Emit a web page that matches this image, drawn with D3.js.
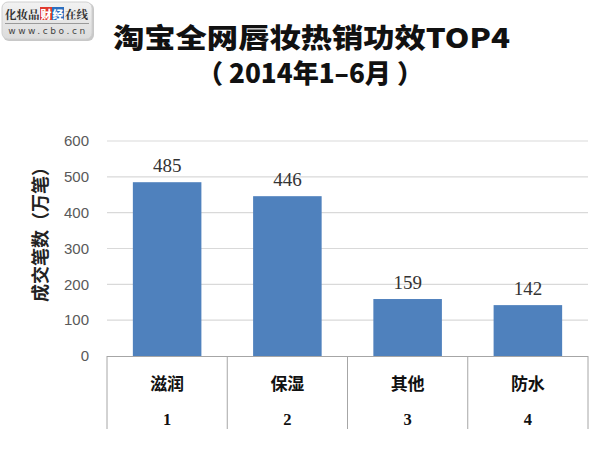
<!DOCTYPE html>
<html><head><meta charset="utf-8">
<script src="https://cdn.jsdelivr.net/npm/d3@7"></script>
<style>body{margin:0;background:#fff}svg{display:block}</style>
</head><body>
<script>
const categories = ["滋润","保湿","其他","防水"];
const indices = ["1","2","3","4"];
const values = [485,446,159,142];
const yTicks = [0,100,200,300,400,500,600];
const title1 = "淘宝全网唇妆热销功效TOP4";
const title2 = "（ 2014年1–6月 ）";
const yTitle = "成交笔数（万笔）";

const W=600,H=449;
const svg=d3.select("body").append("svg").attr("width",W).attr("height",H);
const L=107,R=588,T=141,B=356;
const x=d3.scaleBand().domain(categories).range([L,R]).paddingInner(0.43).paddingOuter(0.215);
const xb=d3.scaleBand().domain(categories).range([L,R]);
const y=d3.scaleLinear().domain([0,600]).range([B,T]);

// logo
const lg=svg.append("g");
const grad=svg.append("defs").append("linearGradient").attr("id","lgg").attr("x1",0).attr("y1",0).attr("x2",0).attr("y2",1);
grad.append("stop").attr("offset","0").attr("stop-color","#f2f2f2");
grad.append("stop").attr("offset","1").attr("stop-color","#dcdcdc");
lg.append("rect").attr("x",3).attr("y",3).attr("width",91).attr("height",38).attr("rx",6).attr("fill","#c8c8c8");
lg.append("rect").attr("x",2).attr("y",2).attr("width",90).attr("height",37).attr("rx",6).attr("fill","url(#lgg)").attr("stroke","#d0d0d0");
lg.append("text").attr("x",5).attr("y",19).attr("font-family","Noto Serif CJK SC, Noto Sans CJK SC").attr("font-weight","bold").attr("font-size",11.5).attr("fill","#333").text("化妆品");
lg.append("rect").attr("x",40).attr("y",7).attr("width",12).attr("height",13).attr("fill","#e03a2f");
lg.append("rect").attr("x",52).attr("y",7).attr("width",12).attr("height",13).attr("fill","#2c6fc0");
lg.append("text").attr("x",40.5).attr("y",18.5).attr("font-family","Noto Sans CJK SC").attr("font-weight","900").attr("font-size",11).attr("fill","#fff").text("财");
lg.append("text").attr("x",52.5).attr("y",18.5).attr("font-family","Noto Sans CJK SC").attr("font-weight","900").attr("font-size",11).attr("fill","#fff").text("经");
lg.append("text").attr("x",65).attr("y",19).attr("font-family","Noto Serif CJK SC, Noto Sans CJK SC").attr("font-weight","bold").attr("font-size",11.5).attr("fill","#333").text("在线");
lg.append("line").attr("x1",5).attr("x2",89).attr("y1",23.5).attr("y2",23.5).attr("stroke","#9a9a9a");
lg.append("text").attr("x",48).attr("y",34).attr("text-anchor","middle").attr("font-family","DejaVu Sans").attr("font-size",9).attr("letter-spacing",2.6).attr("fill","#444").text("www.cbo.cn");

// titles
svg.append("text").attr("x",113).attr("y",48).attr("textLength",397).attr("lengthAdjust","spacingAndGlyphs")
 .attr("font-family","Noto Sans CJK SC").attr("font-weight","900").attr("font-size",27).attr("fill","#111").text(title1);
svg.append("text").attr("x",197).attr("y",83).attr("textLength",226).attr("lengthAdjust","spacingAndGlyphs")
 .attr("font-family","Noto Sans CJK SC").attr("font-weight","900").attr("font-size",26).attr("fill","#111").text(title2);

// gridlines
svg.append("g").selectAll("line").data(yTicks.filter(d=>d>0)).join("line")
 .attr("x1",L).attr("x2",R).attr("y1",d=>y(d)).attr("y2",d=>y(d)).attr("stroke","#d9d9d9").attr("stroke-width",1.2);

// y axis labels
const ya=svg.append("g").attr("transform",`translate(${L},0)`).call(d3.axisLeft(y).tickValues(yTicks).tickSize(0).tickPadding(18));
ya.select(".domain").remove();
ya.selectAll("text").attr("font-family","Liberation Sans").attr("font-size",15).attr("fill","#595959");

// y title
svg.append("text").attr("transform","translate(47,230) rotate(-90)").attr("text-anchor","middle").attr("font-family","Noto Sans CJK SC").attr("font-weight","bold").attr("font-size",18).attr("fill","#222").text(yTitle);

// bars
svg.append("g").selectAll("rect").data(values).join("rect")
 .attr("x",(d,i)=>x(categories[i])).attr("width",x.bandwidth())
 .attr("y",d=>y(d)).attr("height",d=>B-y(d)).attr("fill","#4f81bd");
svg.append("g").selectAll("text").data(values).join("text")
 .attr("x",(d,i)=>x(categories[i])+x.bandwidth()/2).attr("y",d=>y(d)-10)
 .attr("text-anchor","middle").attr("font-family","Liberation Serif").attr("font-size",19).attr("fill","#333").text(d=>d);

// category table
const tb=svg.append("g");
tb.append("line").attr("x1",L).attr("x2",R).attr("y1",B+0.5).attr("y2",B+0.5).attr("stroke","#a6a6a6");
const edges=categories.map(c=>xb(c)).concat([R]);
tb.selectAll("line.v").data(edges).join("line").attr("class","v")
 .attr("x1",d=>d).attr("x2",d=>d).attr("y1",B).attr("y2",429).attr("stroke","#a6a6a6");
tb.selectAll("text.c").data(categories).join("text").attr("class","c")
 .attr("x",d=>xb(d)+xb.bandwidth()/2).attr("y",390).attr("text-anchor","middle")
 .attr("font-family","Noto Sans CJK SC").attr("font-weight","bold").attr("font-size",17).attr("fill","#111").text(d=>d);
tb.selectAll("text.n").data(indices).join("text").attr("class","n")
 .attr("x",(d,i)=>xb(categories[i])+xb.bandwidth()/2).attr("y",425).attr("text-anchor","middle")
 .attr("font-family","Liberation Serif").attr("font-weight","bold").attr("font-size",16.5).attr("fill","#111").text(d=>d);
</script>
</body></html>
